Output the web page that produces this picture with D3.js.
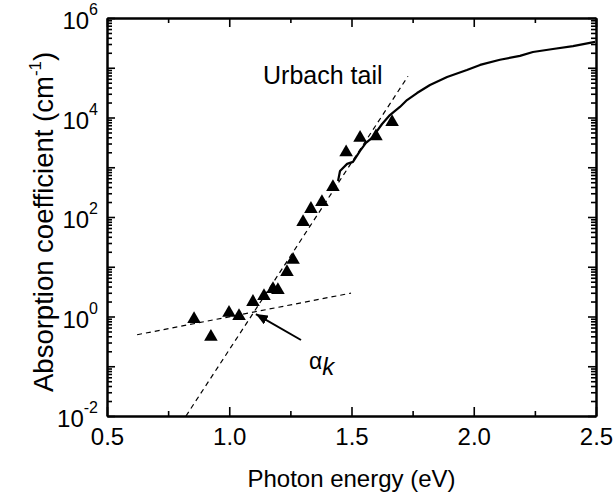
<!DOCTYPE html>
<html>
<head>
<meta charset="utf-8">
<script src="https://cdn.jsdelivr.net/npm/d3@7"></script>
<style>
  html, body { margin: 0; padding: 0; background: #fff; }
  svg { display: block; font-family: "Liberation Sans", Arial, sans-serif; }
</style>
</head>
<body>
<svg id="chart" width="615" height="499"></svg>
<script>
// Measured absorption points (triangles)
const pointEnergy = [0.856, 0.925, 0.999, 1.040, 1.097, 1.142, 1.179, 1.199, 1.236, 1.261,
                     1.302, 1.334, 1.379, 1.424, 1.478, 1.535, 1.600, 1.666];
const pointAlpha  = [0.89, 0.39, 1.18, 1.02, 1.96, 2.58, 3.57, 3.41, 7.8, 13.7,
                     79, 145, 200, 400, 2000, 3900, 4200, 8100];

// Continuous absorption spectrum (solid curve)
const curveEnergy = [1.445, 1.453, 1.482, 1.506, 1.535, 1.559, 1.584, 1.625, 1.657, 1.698,
                     1.727, 1.768, 1.821, 1.891, 1.972, 2.026, 2.107, 2.189, 2.242, 2.324,
                     2.406, 2.496];
const curveAlpha  = [530, 840, 1170, 1280, 2130, 3080, 3880, 7400, 11200, 16300,
                     22400, 31000, 45000, 65000, 90000, 114000, 145000, 173000, 207000, 238000,
                     273000, 330000];

// Fitted lines: Urbach tail and the sub-gap baseline
const urbachEnergy = [0.823, 1.731];
const urbachAlpha  = [0.01, 67600];
const baseEnergy   = [0.623, 1.498];
const baseAlpha    = [0.43, 2.95];

// Arrow marking alpha_k (tail, tip)
const arrowEnergy = [1.2935, 1.109];
const arrowAlpha  = [0.337, 1.12];

// Axis ticks
const xMajor = [0.5, 1.0, 1.5, 2.0, 2.5];
const xMinor = [0.75, 1.25, 1.75, 2.25];
const xLabels = ["0.5", "1.0", "1.5", "2.0", "2.5"];
const yDecades = [-2, -1, 0, 1, 2, 3, 4, 5, 6];
const yLabelExps = [-2, 0, 2, 4, 6];

const W = 615, H = 499;
const L = 107, R = 596, T = 18, B = 416;

const svg = d3.select("#chart");
svg.append("rect").attr("width", W).attr("height", H).attr("fill", "#fff");

const x = d3.scaleLinear().domain([0.5, 2.5]).range([L, R]);
const y = d3.scaleLog().domain([1e-2, 1e6]).range([B, T]);

const yMajorVals = yDecades.map(e => Math.pow(10, e));
const yMinorVals = [];
for (let e = -2; e < 6; e++) for (let k = 2; k <= 9; k++) yMinorVals.push(k * Math.pow(10, e));

function styleAxis(g) {
  g.selectAll(".domain").attr("stroke", "#000").attr("stroke-width", 2);
  g.selectAll(".tick line").attr("stroke", "#000").attr("stroke-width", 1.6);
}

// Bottom axis
const gB = svg.append("g").attr("transform", `translate(0,${B})`)
  .call(d3.axisBottom(x).tickValues(xMajor).tickSizeInner(-9).tickSizeOuter(0).tickPadding(12)
        .tickFormat((d, i) => xLabels[i]));
gB.selectAll("text").attr("font-size", 24).attr("fill", "#000")
  .attr("font-family", "Liberation Sans, Arial, sans-serif");
styleAxis(gB);
svg.append("g").attr("transform", `translate(0,${B})`)
  .call(d3.axisBottom(x).tickValues(xMinor).tickSizeInner(-5).tickSizeOuter(0).tickFormat(""))
  .call(styleAxis);

// Top axis
svg.append("g").attr("transform", `translate(0,${T})`)
  .call(d3.axisTop(x).tickValues(xMajor).tickSizeInner(-9).tickSizeOuter(0).tickFormat(""))
  .call(styleAxis);
svg.append("g").attr("transform", `translate(0,${T})`)
  .call(d3.axisTop(x).tickValues(xMinor).tickSizeInner(-5).tickSizeOuter(0).tickFormat(""))
  .call(styleAxis);

// Left axis
const gL = svg.append("g").attr("transform", `translate(${L},0)`)
  .call(d3.axisLeft(y).tickValues(yMajorVals).tickSizeInner(-8).tickSizeOuter(0).tickPadding(9)
        .tickFormat(""));
styleAxis(gL);
svg.append("g").attr("transform", `translate(${L},0)`)
  .call(d3.axisLeft(y).tickValues(yMinorVals).tickSizeInner(-5).tickSizeOuter(0).tickFormat(""))
  .call(styleAxis);

// Left axis labels: 10 with superscript exponent
gL.selectAll(".tick").each(function (d) {
  const e = Math.round(Math.log10(d));
  if (!yLabelExps.includes(e)) return;
  const t = d3.select(this).append("text")
    .attr("x", -9).attr("y", 10.5)
    .attr("text-anchor", "end")
    .attr("fill", "#000")
    .attr("font-size", 24);
  t.append("tspan").text("10");
  t.append("tspan").attr("dy", -14).attr("font-size", 16).text(String(e));
});

// Right axis
svg.append("g").attr("transform", `translate(${R},0)`)
  .call(d3.axisRight(y).tickValues(yMajorVals).tickSizeInner(-8).tickSizeOuter(0).tickFormat(""))
  .call(styleAxis);
svg.append("g").attr("transform", `translate(${R},0)`)
  .call(d3.axisRight(y).tickValues(yMinorVals).tickSizeInner(-5).tickSizeOuter(0).tickFormat(""))
  .call(styleAxis);

// Plot content
const line = d3.line().x(d => x(d[0])).y(d => y(d[1]));

svg.append("path")
  .datum(d3.zip(urbachEnergy, urbachAlpha))
  .attr("d", line).attr("fill", "none").attr("stroke", "#000")
  .attr("stroke-width", 1.2).attr("stroke-dasharray", "5,4");

svg.append("path")
  .datum(d3.zip(baseEnergy, baseAlpha))
  .attr("d", line).attr("fill", "none").attr("stroke", "#000")
  .attr("stroke-width", 1.2).attr("stroke-dasharray", "5,4");

svg.append("path")
  .datum(d3.zip(curveEnergy, curveAlpha))
  .attr("d", line).attr("fill", "none").attr("stroke", "#000")
  .attr("stroke-width", 2.2).attr("stroke-linejoin", "round");

const tri = d3.symbol().type(d3.symbolTriangle).size(80);
svg.append("g").selectAll("path")
  .data(d3.zip(pointEnergy, pointAlpha))
  .join("path")
  .attr("transform", d => `translate(${x(d[0])},${y(d[1])})`)
  .attr("d", tri)
  .attr("fill", "#000");

// Arrow to alpha_k
const defs = svg.append("defs");
defs.append("marker")
  .attr("id", "head").attr("viewBox", "0 0 12 10")
  .attr("refX", 12).attr("refY", 5)
  .attr("markerWidth", 12).attr("markerHeight", 10)
  .attr("markerUnits", "userSpaceOnUse")
  .attr("orient", "auto")
  .append("path").attr("d", "M0,0 L12,5 L0,10 Z").attr("fill", "#000");

svg.append("path")
  .datum(d3.zip(arrowEnergy, arrowAlpha))
  .attr("d", line).attr("fill", "none").attr("stroke", "#000")
  .attr("stroke-width", 2).attr("marker-end", "url(#head)");

// Annotations
svg.append("text").attr("x", 263).attr("y", 84)
  .attr("font-size", 25).attr("fill", "#000").text("Urbach tail");

const ak = svg.append("text").attr("x", 309).attr("y", 369).attr("fill", "#000");
ak.append("tspan").attr("font-size", 23).text("α");
ak.append("tspan").attr("font-size", 24).attr("font-style", "italic").attr("dy", 6).text("k");

// Axis titles
svg.append("text")
  .attr("x", (L + R) / 2).attr("y", 487)
  .attr("text-anchor", "middle").attr("font-size", 24).attr("fill", "#000")
  .text("Photon energy (eV)");

const yt = svg.append("text")
  .attr("transform", "translate(53,392) rotate(-90)")
  .attr("text-anchor", "start").attr("font-size", 27.5).attr("fill", "#000");
yt.append("tspan").text("Absorption coefficient (cm");
yt.append("tspan").attr("font-size", 17).attr("dy", -12).text("-1");
yt.append("tspan").attr("dy", 12).text(")");
</script>
</body>
</html>
